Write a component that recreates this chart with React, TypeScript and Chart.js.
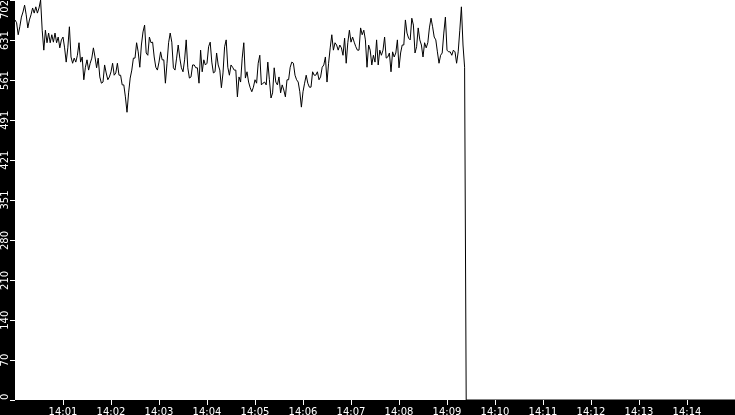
import React, { useRef, useEffect } from "react";
import Chart from "chart.js/auto";

// samples every 2 seconds starting 14:00:00
const sampleStepSeconds = 2;
const rateValues = [
  667, 662, 641, 655, 672, 681, 693, 676, 653, 667, 676, 688, 679, 690, 679, 688, 702, 649, 614, 649,
  627, 644, 627, 641, 628, 644, 627, 637, 618, 632, 637, 618, 593, 618, 655, 602, 591, 600, 593, 605,
  627, 593, 602, 562, 584, 597, 579, 591, 600, 618,
  602, 583, 600, 567, 556, 558, 588, 574, 562, 567, 576, 591, 570, 574, 591, 570, 570, 553, 553, 532,
  505, 539, 565, 579, 600, 600, 627, 611, 584, 623, 646, 658, 609, 605, 637, 627, 628, 602, 584, 579,
  593, 611, 597, 597, 556, 591, 627,
  644, 628, 583, 579, 600, 623, 600, 583, 576, 597, 632, 583, 565, 567, 588, 588, 583, 583, 556, 614,
  576, 597, 588, 591, 620, 628, 593, 574, 576, 609, 588, 579, 548, 574, 620, 632, 584, 570, 588, 584,
  579, 579, 532, 567, 558, 600, 627, 565,
  576, 558, 548, 541, 549, 562, 556, 591, 605, 553, 556, 558, 553, 593, 562, 530, 539, 583, 558, 553,
  567, 539, 553, 544, 532, 562, 562, 584, 593, 591, 570, 562, 558, 541, 514, 541, 556, 570, 556, 549,
  549, 576, 570, 570, 576, 562, 567,
  584, 588, 602, 558, 591, 618, 641, 614, 627, 623, 614, 623, 618, 605, 635, 591, 627, 649, 628, 637,
  628, 620, 614, 614, 653, 641, 649, 632, 584, 623, 614, 588, 605, 593, 632, 588, 614, 605, 614, 637,
  600, 602, 609, 576, 611, 602, 609, 632,
  583, 609, 623, 623, 667, 644, 635, 632, 670, 658, 609, 620, 653, 632, 623, 602, 627, 618, 627, 653,
  670, 655, 637, 632, 611, 591, 605, 609, 644, 672, 614, 611, 611, 605, 614, 611, 591, 611, 649, 690,
  623, 584,
];
// after the drop the rate stays at zero to the end of the window
const tailSeconds = [564, 900];
const tailValues = [0, 0];

const yTickValues = [0, 70, 140, 210, 280, 351, 421, 491, 561, 631, 702];
const xTickLabels = [
  "14:01", "14:02", "14:03", "14:04", "14:05", "14:06", "14:07",
  "14:08", "14:09", "14:10", "14:11", "14:12", "14:13", "14:14",
];

const labelFont = "10px 'DejaVu Sans'";

const plotBackground = {
  id: "plotBackground",
  beforeDraw(chart: any) {
    const { ctx, chartArea } = chart;
    ctx.save();
    ctx.fillStyle = "#ffffff";
    ctx.fillRect(chartArea.left, chartArea.top, chartArea.width, chartArea.height);
    ctx.restore();
  },
};

// y labels are written sideways, kept inside the plot height
const sidewaysYLabels = {
  id: "sidewaysYLabels",
  afterDraw(chart: any) {
    const { ctx, chartArea } = chart;
    const scale = chart.scales.y;
    ctx.save();
    ctx.font = labelFont;
    ctx.fillStyle = "#ffffff";
    ctx.textAlign = "center";
    ctx.textBaseline = "middle";
    scale.ticks.forEach((tick: any) => {
      const label = String(tick.value);
      const half = ctx.measureText(label).width / 2;
      let cy = scale.getPixelForValue(tick.value);
      cy = Math.max(cy, chartArea.top + half);
      cy = Math.min(cy, chartArea.bottom - half);
      ctx.save();
      ctx.translate(5.5, cy);
      ctx.rotate(-Math.PI / 2);
      ctx.fillText(label, 0, 0);
      ctx.restore();
    });
    ctx.restore();
  },
};

const App: React.FC = () => {
  const canvasRef = useRef<HTMLCanvasElement | null>(null);
  const chartRef = useRef<Chart | null>(null);

  useEffect(() => {
    if (!canvasRef.current) return;
    if (chartRef.current) chartRef.current.destroy();

    const points = rateValues.map((v, i) => ({ x: i * sampleStepSeconds, y: v }));
    tailSeconds.forEach((t, i) => points.push({ x: t, y: tailValues[i] }));

    chartRef.current = new Chart(canvasRef.current, {
      type: "line",
      data: {
        datasets: [
          {
            data: points,
            borderColor: "#000000",
            borderWidth: 1,
            pointRadius: 0,
            tension: 0,
            fill: false,
          },
        ],
      },
      options: {
        animation: false,
        responsive: true,
        maintainAspectRatio: false,
        layout: { padding: 0 },
        plugins: { legend: { display: false }, tooltip: { enabled: false } },
        scales: {
          x: {
            type: "linear",
            min: 0,
            max: 900,
            afterBuildTicks: (scale: any) => {
              scale.ticks = xTickLabels.map((l) => ({ value: Number(l.slice(3)) * 60 }));
            },
            afterFit: (scale: any) => {
              scale.height = 15;
            },
            grid: {
              drawOnChartArea: false,
              tickLength: 5,
              tickColor: "#ffffff",
              color: "#ffffff",
            },
            border: { display: false },
            ticks: {
              color: "#ffffff",
              font: { family: "DejaVu Sans", size: 10 },
              padding: 1,
              maxRotation: 0,
              minRotation: 0,
              autoSkip: false,
              callback: (_v: any, i: number) => xTickLabels[i],
            },
          },
          y: {
            min: 0,
            max: 702,
            afterBuildTicks: (scale: any) => {
              scale.ticks = yTickValues.map((v) => ({ value: v }));
            },
            afterFit: (scale: any) => {
              scale.width = 15;
            },
            grid: {
              drawOnChartArea: false,
              tickLength: 5,
              tickColor: "#ffffff",
              color: "#ffffff",
            },
            border: { display: false },
            ticks: { display: false },
          },
        },
      },
      plugins: [plotBackground, sidewaysYLabels],
    });

    return () => {
      if (chartRef.current) {
        chartRef.current.destroy();
        chartRef.current = null;
      }
    };
  }, []);

  return (
    <div style={{ position: "fixed", left: 0, top: 0, width: 735, height: 415, background: "#000000" }}>
      <canvas ref={canvasRef}></canvas>
    </div>
  );
};

export default App;
